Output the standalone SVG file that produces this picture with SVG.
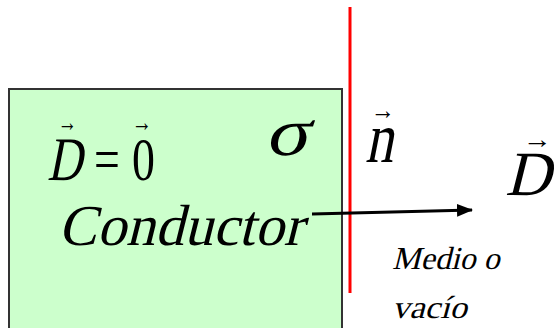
<svg xmlns="http://www.w3.org/2000/svg" width="557" height="328" viewBox="0 0 557 328">
<defs>
<marker id="ah" markerWidth="16" markerHeight="13" refX="15" refY="6.5" orient="auto" markerUnits="userSpaceOnUse">
<path d="M0,0 L16,6.5 L0,13 Z" fill="#000"/>
</marker>
</defs>
<rect width="557" height="328" fill="#fff"/>
<g id="conductor">
<rect x="9" y="89" width="333" height="260" fill="#ccffcc" stroke="#333" stroke-width="2"/>
<g transform="translate(47,180) scale(0.78,1) skewX(-14)"><text font-family="'Liberation Serif', 'DejaVu Serif', serif" x="0" y="0" font-size="62">D</text></g>
<text font-family="'Liberation Serif', 'DejaVu Serif', serif" font-size="26" x="58" y="131" textLength="19" lengthAdjust="spacingAndGlyphs">→</text>
<g transform="translate(94,180) scale(0.74,1)"><text font-family="'Liberation Serif', 'DejaVu Serif', serif" x="0" y="0" font-size="62">=</text></g>
<g transform="translate(132,180) scale(0.74,1)"><text font-family="'Liberation Serif', 'DejaVu Serif', serif" x="0" y="0" font-size="62">0</text></g>
<text font-family="'Liberation Serif', 'DejaVu Serif', serif" font-size="26" x="132" y="131" textLength="20" lengthAdjust="spacingAndGlyphs">→</text>
<g transform="translate(265,155) scale(1.2,1) skewX(-10)"><text font-family="'Liberation Serif', 'DejaVu Serif', serif" x="0" y="0" font-size="68">σ</text></g>
<g transform="translate(58,245) skewX(-14)"><text font-family="'Liberation Serif', 'DejaVu Serif', serif" x="0" y="0" font-size="58">Conductor</text></g>
</g>
<g id="surface">
<line x1="350" y1="7" x2="350" y2="293" stroke="#ff0000" stroke-width="3"/>
</g>
<g id="normal">
<g transform="translate(365,162) scale(0.78,1) skewX(-14)"><text font-family="'Liberation Serif', 'DejaVu Serif', serif" x="0" y="0" font-size="72">n</text></g>
<text font-family="'Liberation Serif', 'DejaVu Serif', serif" font-size="26" x="371" y="119" textLength="24" lengthAdjust="spacingAndGlyphs">→</text>
</g>
<g id="field">
<g transform="translate(505,195) skewX(-14)"><text font-family="'Liberation Serif', 'DejaVu Serif', serif" x="0" y="0" font-size="63">D</text></g>
<text font-family="'Liberation Serif', 'DejaVu Serif', serif" font-size="26" x="523" y="148" textLength="29" lengthAdjust="spacingAndGlyphs">→</text>
</g>
<g id="medium">
<g transform="translate(392,269) skewX(-14)"><text font-family="'Liberation Serif', 'DejaVu Serif', serif" x="0" y="0" font-size="32">Medio o</text></g>
<g transform="translate(392,318) scale(1.08,1) skewX(-14)"><text font-family="'Liberation Serif', 'DejaVu Serif', serif" x="0" y="0" font-size="32">vacío</text></g>
</g>
<g id="connectors">
<line x1="312" y1="214" x2="472" y2="210" stroke="#000" stroke-width="3" marker-end="url(#ah)"/>
</g>
</svg>
